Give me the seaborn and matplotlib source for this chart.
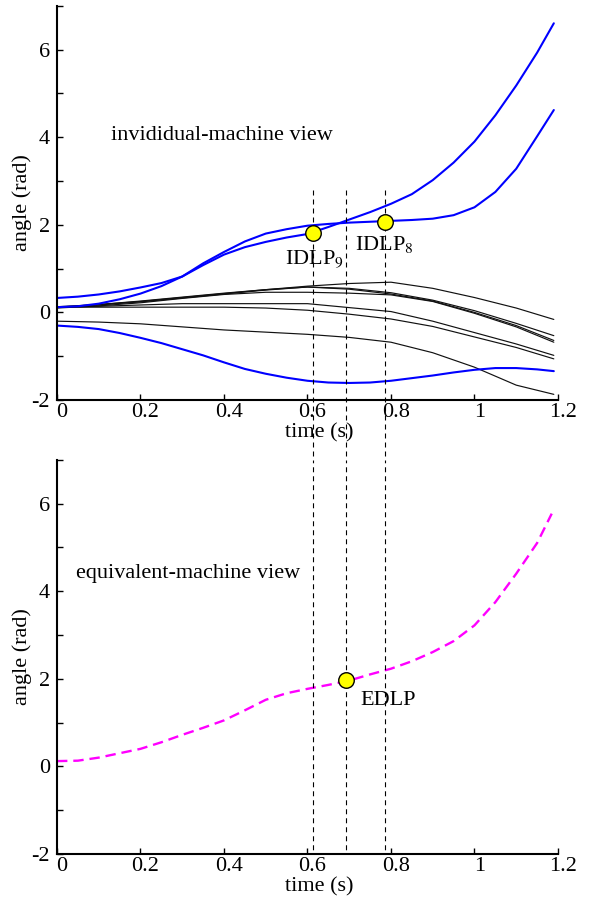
import matplotlib.pyplot as plt
import seaborn as sns
from matplotlib.transforms import ScaledTranslation
from matplotlib.ticker import MultipleLocator

# time grids (s)
t_fine = [0.0, 0.05, 0.1, 0.15, 0.2, 0.25, 0.3, 0.35, 0.4, 0.45, 0.5, 0.55, 0.6,
          0.65, 0.7, 0.75, 0.8, 0.85, 0.9, 0.95, 1.0, 1.05, 1.1, 1.15, 1.19]
t_coarse = [0.0, 0.1, 0.2, 0.3, 0.4, 0.5, 0.6, 0.7, 0.8, 0.9, 1.0, 1.1, 1.19]
t_em = [0.0, 0.05, 0.1, 0.15, 0.2, 0.25, 0.3, 0.35, 0.4, 0.45, 0.5, 0.55, 0.6,
        0.65, 0.7, 0.75, 0.8, 0.85, 0.9, 0.95, 1.0, 1.05, 1.1, 1.15, 1.185]

# critical machines (blue)
blue_a = [0.33, 0.36, 0.41, 0.48, 0.57, 0.67, 0.82, 1.08, 1.32, 1.49, 1.61, 1.71, 1.79,
          1.95, 2.12, 2.29, 2.48, 2.7, 3.02, 3.42, 3.9, 4.5, 5.18, 5.93, 6.6]
blue_b = [0.12, 0.14, 0.2, 0.3, 0.43, 0.6, 0.82, 1.12, 1.38, 1.62, 1.8, 1.9, 1.98,
          2.02, 2.05, 2.07, 2.09, 2.11, 2.14, 2.22, 2.4, 2.75, 3.28, 4.02, 4.62]
blue_c = [-0.3, -0.33, -0.38, -0.47, -0.58, -0.7, -0.84, -0.98, -1.14, -1.29, -1.4, -1.49, -1.56,
          -1.6, -1.61, -1.6, -1.56, -1.5, -1.44, -1.37, -1.31, -1.27, -1.27, -1.3, -1.34]

# other machines (black)
black_lines = [
    [0.12, 0.18, 0.26, 0.35, 0.44, 0.52, 0.6, 0.66, 0.69, 0.55, 0.34, 0.1, -0.16],
    [0.11, 0.17, 0.24, 0.33, 0.42, 0.51, 0.58, 0.55, 0.45, 0.28, 0.04, -0.25, -0.53],
    [0.13, 0.18, 0.25, 0.34, 0.43, 0.52, 0.58, 0.53, 0.42, 0.26, 0.0, -0.3, -0.64],
    [0.1, 0.15, 0.22, 0.32, 0.41, 0.46, 0.46, 0.44, 0.4, 0.25, -0.02, -0.33, -0.68],
    [0.12, 0.14, 0.17, 0.2, 0.2, 0.2, 0.2, 0.11, 0.02, -0.2, -0.46, -0.72, -0.98],
    [0.12, 0.12, 0.12, 0.12, 0.12, 0.1, 0.05, -0.04, -0.15, -0.32, -0.56, -0.8, -1.06],
    [-0.2, -0.22, -0.26, -0.33, -0.4, -0.45, -0.5, -0.57, -0.68, -0.92, -1.25, -1.66, -1.87],
]

# equivalent machine (magenta)
equiv = [0.12, 0.13, 0.2, 0.3, 0.4, 0.55, 0.72, 0.88, 1.05, 1.28, 1.52, 1.67, 1.77,
         1.86, 1.96, 2.1, 2.23, 2.4, 2.61, 2.86, 3.22, 3.75, 4.4, 5.1, 5.77]

# loss of synchronism points
idlp_t = [0.612, 0.785]
idlp_y = [1.81, 2.06]
edlp_t = [0.6915]
edlp_y = [1.97]
vline_t = [0.612, 0.6915, 0.785]

sns.set_style('ticks')
plt.rcParams['font.family'] = ['Liberation Serif', 'DejaVu Serif']
plt.rcParams['mathtext.fontset'] = 'stix'
plt.rcParams['font.size'] = 16
plt.rcParams['text.color'] = 'black'
plt.rcParams['axes.labelcolor'] = 'black'

fig = plt.figure(figsize=(5.95, 9.01), dpi=100, facecolor='white')
ax1 = fig.add_axes([0.0958, 0.556, 0.842, 0.4376])
ax2 = fig.add_axes([0.0958, 0.0522, 0.842, 0.4375])

for y in black_lines:
    sns.lineplot(x=t_coarse, y=y, ax=ax1, color='#111111', lw=0.85)
for y in [blue_a, blue_b, blue_c]:
    sns.lineplot(x=t_fine, y=y, ax=ax1, color='#0000ff', lw=1.5)
sns.scatterplot(x=idlp_t, y=idlp_y, ax=ax1, color='#ffff00', edgecolor='black',
                linewidth=1, s=125, zorder=5)

sns.lineplot(x=t_em, y=equiv, ax=ax2, color='#ff00ff', lw=1.7,
             linestyle=(0, (4.4, 2.5)))
sns.scatterplot(x=edlp_t, y=edlp_y, ax=ax2, color='#ffff00', edgecolor='black',
                linewidth=1, s=125, zorder=5)

ax1.text(0.129, 3.93, 'invididual-machine view', ha='left', va='baseline')
ax1.text(0.546, 1.11, 'IDLP$_9$', ha='left', va='baseline')
ax1.text(0.714, 1.42, 'IDLP$_8$', ha='left', va='baseline')
ax2.text(0.046, 4.31, 'equivalent-machine view', ha='left', va='baseline')
ax2.text(0.726, 1.39, 'EDLP', ha='left', va='baseline')

# vertical dashed lines: top panel part runs down through the gap to the lower panel
gap = (0.556 - 0.0522 - 0.4375) / 0.4376 * 9  # gap height in top-panel data units
for t in vline_t:
    ax1.plot([t, t], [2.79, -2 - gap], color='black', lw=0.8,
             linestyle=(0, (4.5, 3.6)), clip_on=False, zorder=4)
    ax2.plot([t, t], [7, -2], color='black', lw=0.8,
             linestyle=(2, (4.5, 3.6)), zorder=4)

shift = ScaledTranslation(5 / 100, 0, fig.dpi_scale_trans)
for ax in [ax1, ax2]:
    ax.set_facecolor('none')
    ax.set_xlim(0, 1.2)
    ax.set_ylim(-2, 7)
    ax.set_xticks([0, 0.2, 0.4, 0.6, 0.8, 1.0, 1.2])
    ax.set_xticklabels(['0', '0.2', '0.4', '0.6', '0.8', '1', '1.2'])
    ax.set_yticks([-2, 0, 2, 4, 6])
    ax.set_yticklabels(['-2', '0', '2', '4', '6'])
    ax.yaxis.set_minor_locator(MultipleLocator(1))
    ax.tick_params(axis='both', which='both', direction='in', length=4.5, width=1,
                   labelsize=16, color='black', labelcolor='black')
    ax.tick_params(axis='x', pad=2)
    ax.tick_params(axis='y', pad=5)
    sns.despine(ax=ax)
    for side in ['left', 'bottom']:
        ax.spines[side].set_linewidth(1.5)
        ax.spines[side].set_color('black')
    ax.set_xlabel('time (s)', fontsize=16)
    ax.set_ylabel('angle (rad)', fontsize=16)
    ax.xaxis.set_label_coords(0.523, -0.058)
    ax.yaxis.set_label_coords(-0.05, 0.5)
    for lab in ax.get_xticklabels():
        lab.set_transform(lab.get_transform() + shift)

fig.savefig('out.png', dpi=100, facecolor='white')
